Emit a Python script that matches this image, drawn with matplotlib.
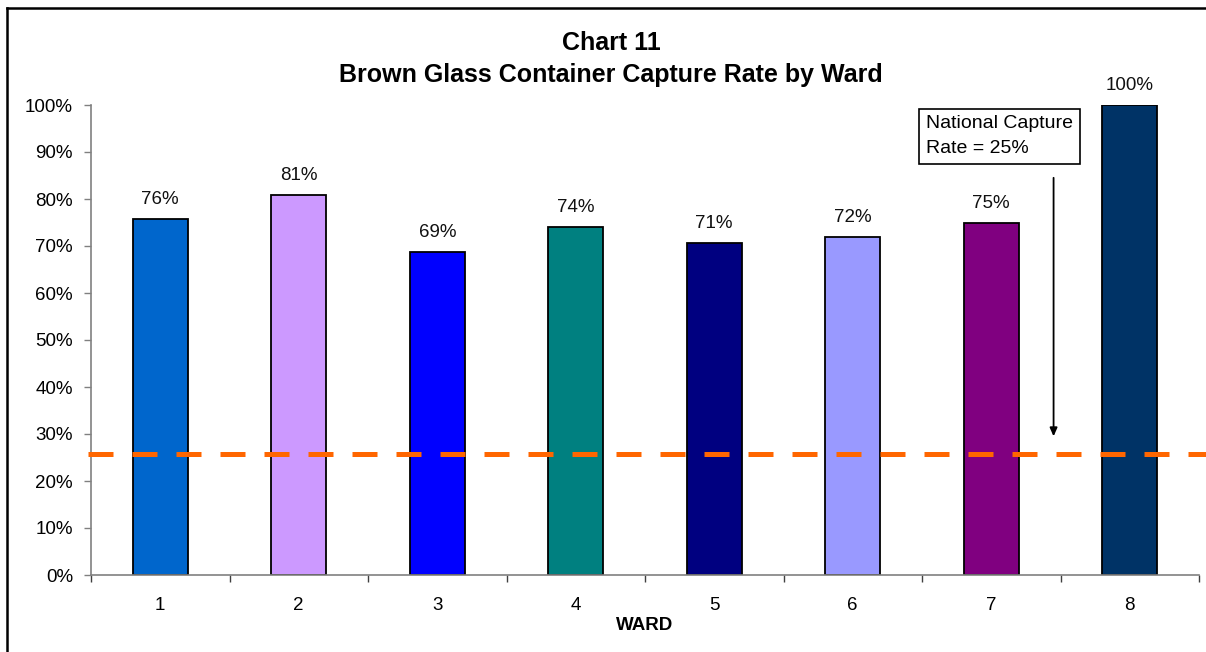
import matplotlib
matplotlib.use("Agg")
import matplotlib.pyplot as plt
from matplotlib.lines import Line2D
import numpy as np

plt.rcParams['font.family'] = ['Liberation Sans', 'DejaVu Sans']

wards = ["1", "2", "3", "4", "5", "6", "7", "8"]
capture_rates = [0.757, 0.809, 0.687, 0.740, 0.706, 0.719, 0.749, 1.00]
bar_colors = ["#0066CC", "#CC99FF", "#0000FF", "#008080", "#000080",
              "#9999FF", "#800080", "#003366"]
national_rate = 0.257
y_ticks = [0.0, 0.1, 0.2, 0.3, 0.4, 0.5, 0.6, 0.7, 0.8, 0.9, 1.0]
title_lines = ["Chart 11", "Brown Glass Container Capture Rate by Ward"]
note_text = "National Capture\nRate = 25%"

W, H = 1206, 652
fig = plt.figure(figsize=(W / 100, H / 100), dpi=100)
ax = fig.add_axes([91 / W, 1 - 575 / H, (1199 - 91) / W, (575 - 105) / H])

x = np.arange(len(wards))
ax.bar(x, capture_rates, width=0.40, color=bar_colors, edgecolor="black",
       linewidth=1.3, zorder=2)

for xi, v in zip(x, capture_rates):
    ax.annotate(f"{v:.0%}", (xi, v), xytext=(0, 8), textcoords="offset points",
                ha="center", va="bottom", fontsize=13.5, color="#111111")

ax.set_xlim(-0.5, len(wards) - 0.5)
ax.set_ylim(0, 1.0)

ax.set_yticks(y_ticks)
ax.set_yticklabels([f"{t:.0%}" for t in y_ticks], fontsize=13.5)
ax.tick_params(axis="y", length=5, width=1, color="#808080", pad=8)

ax.set_xticks(x)
ax.set_xticklabels(wards, fontsize=13.5)
ax.tick_params(axis="x", which="major", length=0, pad=16)
ax.set_xticks(np.arange(len(wards) + 1) - 0.5, minor=True)
ax.tick_params(axis="x", which="minor", length=5, width=1, color="#404040")

for s in ["top", "right"]:
    ax.spines[s].set_visible(False)
for s in ["left", "bottom"]:
    ax.spines[s].set_color("#808080")
    ax.spines[s].set_linewidth(1.2)

ax.set_xlabel("WARD", fontsize=13.5, fontweight="bold", labelpad=2)

ax.axhline(national_rate, xmin=-0.003, xmax=1.01, color="#FF6600",
           linewidth=3.6, linestyle=(0, (5, 3.8)), clip_on=False, zorder=3)

ax.annotate("", xy=(6.45, national_rate + 0.032), xytext=(6.45, 0.851),
            arrowprops=dict(arrowstyle="-|>,head_length=0.5,head_width=0.22",
                            color="black", lw=1.3))

ax.text(5.53, 0.978, note_text, fontsize=14, ha="left", va="top",
        linespacing=1.6,
        bbox=dict(boxstyle="square,pad=0.35", facecolor="white",
                  edgecolor="black", linewidth=1.2))

fig.text(611 / W, 1 - 43 / H, title_lines[0], ha="center", va="center",
         fontsize=18, fontweight="bold")
fig.text(611 / W, 1 - 75 / H, title_lines[1], ha="center", va="center",
         fontsize=18, fontweight="bold")

fig.add_artist(Line2D([7 / W, 7 / W], [0, 1 - 8 / H], color="black", lw=1.8,
                      transform=fig.transFigure))
fig.add_artist(Line2D([7 / W, 1], [1 - 8 / H, 1 - 8 / H], color="black",
                      lw=1.8, transform=fig.transFigure))

fig.savefig("out.png", dpi=100)
